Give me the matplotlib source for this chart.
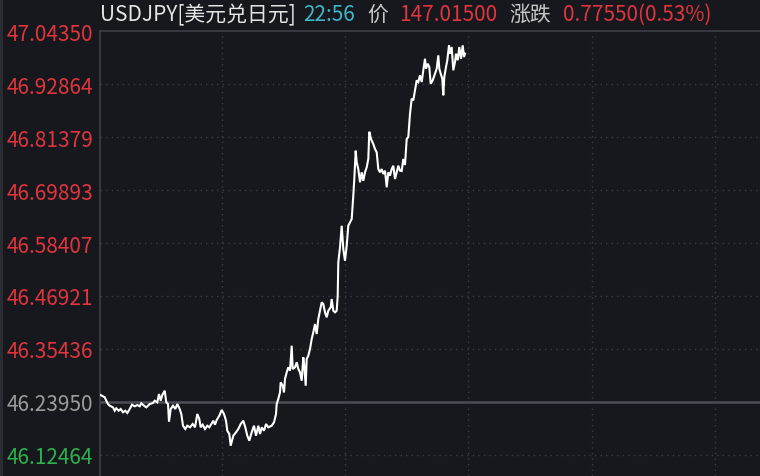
import matplotlib
matplotlib.use("Agg")
import matplotlib.pyplot as plt
from matplotlib.patches import Rectangle

plt.rcParams["font.family"] = ["Noto Sans CJK SC", "DejaVu Sans"]

# time index (minutes-ish offset from session start) and price
t = [0, 4.7, 6.3, 8, 9.7, 13, 14.7, 16.3, 18.7, 20.7, 23, 25.3, 27.3, 29.7, 32,
     34.7, 37.3, 39.7, 41.3, 44, 46.3, 49.7, 53, 54.7, 57.3, 59, 60.7, 62.3, 64.7,
     66.3, 68, 69, 70.7, 73, 75.3, 77.3, 79.7, 81.3, 83, 85.3, 87.3, 90, 92.7, 95,
     97.3, 99.3, 100.7, 102.7, 105, 107.3, 109.3, 111.7, 113.3, 115, 116.7, 119.3,
     121.7, 124, 126, 127.3, 129.3, 130.7, 133.3, 136, 138.3, 140.7, 143.3, 145.3,
     147.3, 149.3, 151.7, 154, 156, 158.3, 160, 161.7, 164, 166, 168.3, 171.7, 174,
     176, 176.7, 178.3, 180, 180.7, 182.7, 184, 185, 186.7, 188.3, 190, 191.7,
     192.7, 195, 196.7, 198.3, 200, 201.7, 203.3, 204.3, 205.7, 206.7, 208.3, 210,
     211.7, 213.3, 215, 216.7, 218.3, 220, 221.7, 223.3, 225, 226.7, 228.3, 230.7,
     231.7, 233.3, 235, 236.7, 237.7, 238.3, 240, 241.7, 243.3, 245, 246.7, 248.3,
     250, 251.7, 253.3, 254.3, 255.7, 256.7, 258.3, 260, 261.7, 263.3, 265, 266.7,
     268.3, 269.3, 271, 273.3, 275, 276.7, 278.3, 280, 281.7, 283.3, 285, 286.7,
     288.3, 290, 291.7, 293.3, 295, 296.7, 298.3, 300, 301.7, 303.3, 305, 306.7,
     308.3, 310, 311.7, 313.3, 315, 316.7, 318.3, 320, 321.7, 323.3, 325, 326,
     327.7, 329.3, 330.7, 332.7, 335, 336.7, 338.3, 339.3, 340.7, 342.3, 343.3,
     344.3, 346, 347.3, 349, 350, 351.7, 353.3, 355, 356, 357.7, 359.3, 361, 362.7,
     364, 365]
price = [46.2547, 46.2491, 46.2417, 46.2345, 46.2308, 46.2273, 46.2200, 46.2252,
         46.2200, 46.2236, 46.2165, 46.2200, 46.2150, 46.2236, 46.2330, 46.2295,
         46.2323, 46.2295, 46.2360, 46.2308, 46.2273, 46.2345, 46.2367, 46.2417,
         46.2382, 46.2562, 46.2417, 46.2540, 46.2634, 46.2382, 46.2345, 46.1961,
         46.2236, 46.2308, 46.2236, 46.2345, 46.2236, 46.2128, 46.1874, 46.1802,
         46.1874, 46.1839, 46.1911, 46.1839, 46.2128, 46.2019, 46.1839, 46.1896,
         46.1802, 46.1874, 46.1839, 46.1926, 46.1982, 46.1896, 46.1998, 46.2091,
         46.2215, 46.2128, 46.1982, 46.1765, 46.1694, 46.1440, 46.1657, 46.1731,
         46.1802, 46.1911, 46.1982, 46.1839, 46.1657, 46.1548, 46.1731, 46.1874,
         46.1657, 46.1874, 46.1694, 46.1839, 46.1765, 46.1911, 46.1839, 46.1874,
         46.1948, 46.2128, 46.2345, 46.2454, 46.2599, 46.2816, 46.2742, 46.2599,
         46.2888, 46.3033, 46.3142, 46.3068, 46.3611, 46.3105, 46.3142, 46.3250,
         46.3105, 46.3033, 46.2851, 46.3359, 46.3177, 46.2742, 46.3322, 46.3394,
         46.3539, 46.3756, 46.3902, 46.4082, 46.3865, 46.4191, 46.4371, 46.4553,
         46.4516, 46.4336, 46.4228, 46.4371, 46.4445, 46.4625, 46.4371, 46.4336,
         46.4371, 46.4696, 46.5422, 46.5747, 46.6216, 46.5710, 46.5456, 46.5782,
         46.6216, 46.6290, 46.6362, 46.6868, 46.7230, 46.7845, 46.7593, 46.7447,
         46.7159, 46.7376, 46.7193, 46.7376, 46.7484, 46.7665, 46.8257, 46.8099,
         46.7990, 46.7882, 46.7810, 46.7447, 46.7376, 46.7447, 46.7339, 46.7411,
         46.7050, 46.7376, 46.7302, 46.7447, 46.7519, 46.7230, 46.7376, 46.7519,
         46.7411, 46.7404, 46.7665, 46.7534, 46.8099, 46.8142, 46.8648, 46.8974,
         46.8939, 46.9156, 46.9373, 46.9336, 46.9482, 46.9336, 46.9590, 46.9842,
         46.9625, 46.9734, 46.9662, 46.9299, 46.9373, 46.9517, 46.9625, 46.9916,
         46.9625, 46.9517, 46.9408, 46.9048, 46.9445, 46.9662, 46.9808, 47.0133,
         46.9951, 47.0096, 46.9590, 46.9771, 46.9951, 46.9808, 47.0096, 46.9842,
         47.0133, 46.9879, 46.9951]

yticks = [47.04350, 46.92864, 46.81379, 46.69893, 46.58407,
          46.46921, 46.35436, 46.23950, 46.12464]
prev_close = 46.23950
x_grid = [122, 245, 368, 492, 615]

BG = "#16181d"
RED = "#e0353d"
GREEN = "#2bb24c"
GREY = "#9c9c9c"
GRID = "#3a3d44"

fig = plt.figure(figsize=(7.6, 4.77), dpi=100)
fig.patch.set_facecolor(BG)
W, H = 760, 477
ax = fig.add_axes([100 / W, 0, 660 / W, 445 / H])
ax.set_facecolor(BG)

ax.plot(t, price, color="white", linewidth=1.5, solid_joinstyle="miter", zorder=3)

ax.set_xlim(0, 660)
ax.set_ylim(46.0782, 47.0444)

for yv in yticks[1:]:
    if yv == prev_close:
        ax.axhline(yv, color="#4b4e54", linewidth=1.8, zorder=1)
    else:
        ax.axhline(yv, color=GRID, linewidth=1.0, linestyle=(0, (1, 3)), zorder=1)
for xv in x_grid:
    ax.axvline(xv, color=GRID, linewidth=1.0, linestyle=(0, (1, 3)), zorder=1)

ax.set_xticks([])
ax.set_yticks(yticks)
ax.set_yticklabels([f"{v:.5f}" for v in yticks], fontsize=15)
ax.tick_params(axis="y", length=0, pad=5)
for lab, v in zip(ax.get_yticklabels(), yticks):
    if v > prev_close + 1e-9:
        lab.set_color(RED)
    elif v < prev_close - 1e-9:
        lab.set_color(GREEN)
    else:
        lab.set_color(GREY)

for side in ("right", "bottom"):
    ax.spines[side].set_visible(False)
for side in ("top", "left"):
    ax.spines[side].set_color("#3c3f45")
    ax.spines[side].set_linewidth(1.2)

fig.patches.append(Rectangle((0, 0), 3 / W, 1, transform=fig.transFigure,
                             facecolor="#2a2c31", edgecolor="none"))

# header
ty = 1 - 15 / H
parts = [
    (100, "USDJPY[美元兑日元]", "#e4e4e4"),
    (303, "22:56", "#3fb7c7"),
    (367, "价", "#c8c8c8"),
    (399, "147.01500", RED),
    (509, "涨跌", "#c8c8c8"),
    (563, "0.77550(0.53%)", RED),
]
for x, s, c in parts:
    fig.text(x / W, ty, s, color=c, fontsize=15, ha="left", va="center")

fig.savefig("out.png", dpi=100, facecolor=BG)
